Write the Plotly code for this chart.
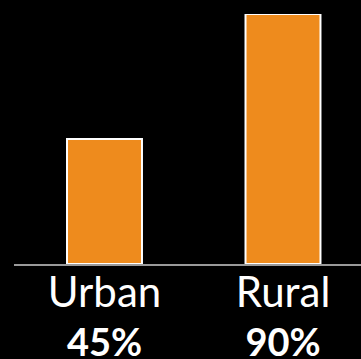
import plotly.graph_objects as go

categories = ["Urban", "Rural"]
values = [45, 90]
value_labels = ["45%", "90%"]

ticktext = [
    f"<span style='font-size:42px'>{c}</span><br><b>{v}</b>"
    for c, v in zip(categories, value_labels)
]

fig = go.Figure(
    go.Bar(
        x=categories,
        y=values,
        width=0.42,
        marker=dict(color="#EE8B1D", line=dict(color="#FFFFFF", width=2)),
        hoverinfo="skip",
    )
)

fig.update_layout(
    width=361,
    height=359,
    margin=dict(l=14, r=0, t=14, b=95, autoexpand=False),
    paper_bgcolor="#000000",
    plot_bgcolor="#000000",
    showlegend=False,
    font=dict(family="Lato", color="#FFFFFF", size=38),
)
fig.update_xaxes(
    type="category",
    range=[-0.507, 1.437],
    tickvals=categories,
    ticktext=ticktext,
    showline=True,
    linecolor="#9A9A9A",
    linewidth=2,
    ticks="",
    showgrid=False,
    zeroline=False,
    automargin=False,
    tickfont=dict(family="Lato", size=38, color="#FFFFFF"),
    ticklabelstandoff=-5,
)
fig.update_yaxes(range=[0, 90], visible=False, showgrid=False, zeroline=False)

fig.write_html(
    "out.html",
    config={"displayModeBar": False},
    post_script="document.body.style.margin='0';document.body.style.background='#000';",
)
